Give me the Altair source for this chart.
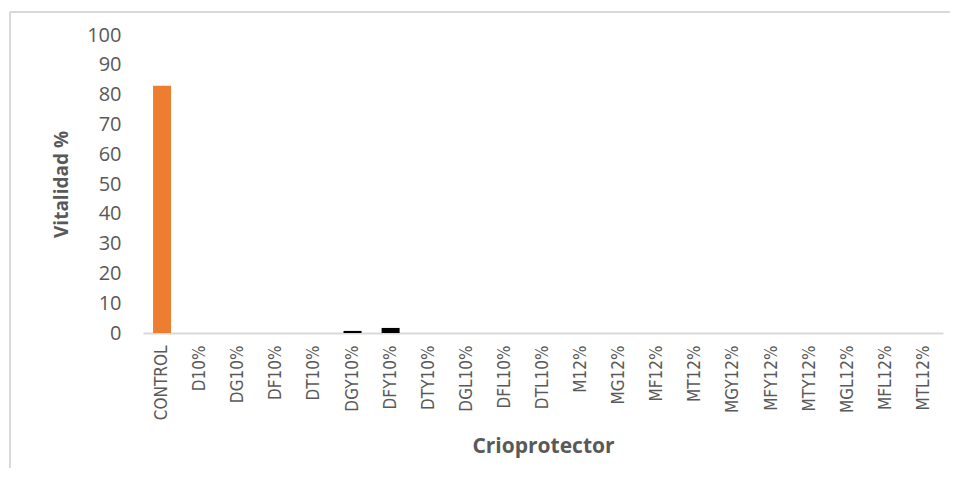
import altair as alt
import pandas as pd

categories = ["CONTROL", "D10%", "DG10%", "DF10%", "DT10%", "DGY10%", "DFY10%",
              "DTY10%", "DGL10%", "DFL10%", "DTL10%", "M12%", "MG12%", "MF12%",
              "MT12%", "MGY12%", "MFY12%", "MTY12%", "MGL12%", "MFL12%", "MTL12%"]
values = [83, 0, 0, 0, 0, 0.7, 1.7, 0, 0, 0, 0, 0, 0, 0, 0, 0, 0, 0, 0, 0, 0]
groups = ["control"] + ["treat"] * (len(categories) - 1)

df = pd.DataFrame({"cat": categories, "val": values, "grp": groups})

W, H = 800, 298

bars = alt.Chart(df).mark_bar(size=18).encode(
    x=alt.X("cat:N", sort=categories, title="Crioprotector",
            scale=alt.Scale(paddingInner=0.55, paddingOuter=0.275),
            axis=alt.Axis(labelAngle=-90, labelFont="DejaVu Sans Condensed",
                          labelFontSize=17, labelColor="#595959", labelPadding=12,
                          ticks=False, domainColor="#D9D9D9", domainWidth=2,
                          titleFont="Open Sans", titleFontSize=21, titleFontWeight="bold",
                          titleColor="#595959", titlePadding=16)),
    y=alt.Y("val:Q", title="Vitalidad %",
            scale=alt.Scale(domain=[0, 100], nice=False),
            axis=alt.Axis(values=list(range(0, 101, 10)), grid=False, domain=False,
                          ticks=False, labelFont="Open Sans", labelFontSize=20,
                          labelColor="#595959", labelPadding=22,
                          titleFont="Open Sans", titleFontSize=19, titleFontWeight="bold",
                          titleColor="#595959", titlePadding=15)),
    color=alt.Color("grp:N", scale=alt.Scale(domain=["control", "treat"],
                                             range=["#ED7D31", "#000000"]), legend=None),
)

border_top = alt.Chart(df).mark_rule(color="#D9D9D9", strokeWidth=2).encode(
    x=alt.value(-133), x2=alt.value(W + 15), y=alt.value(-23))
border_left = alt.Chart(df).mark_rule(color="#D9D9D9", strokeWidth=2).encode(
    x=alt.value(-133), y=alt.value(-23), y2=alt.value(H + 150))

chart = alt.layer(border_top, border_left, bars).properties(
    width=W, height=H,
    autosize=alt.AutoSizeParams(type="none"),
    padding={"left": 135, "top": 27, "right": 7, "bottom": 135},
).configure_view(stroke=None)

chart.save("out.html", embed_options={"renderer": "svg", "actions": False})
